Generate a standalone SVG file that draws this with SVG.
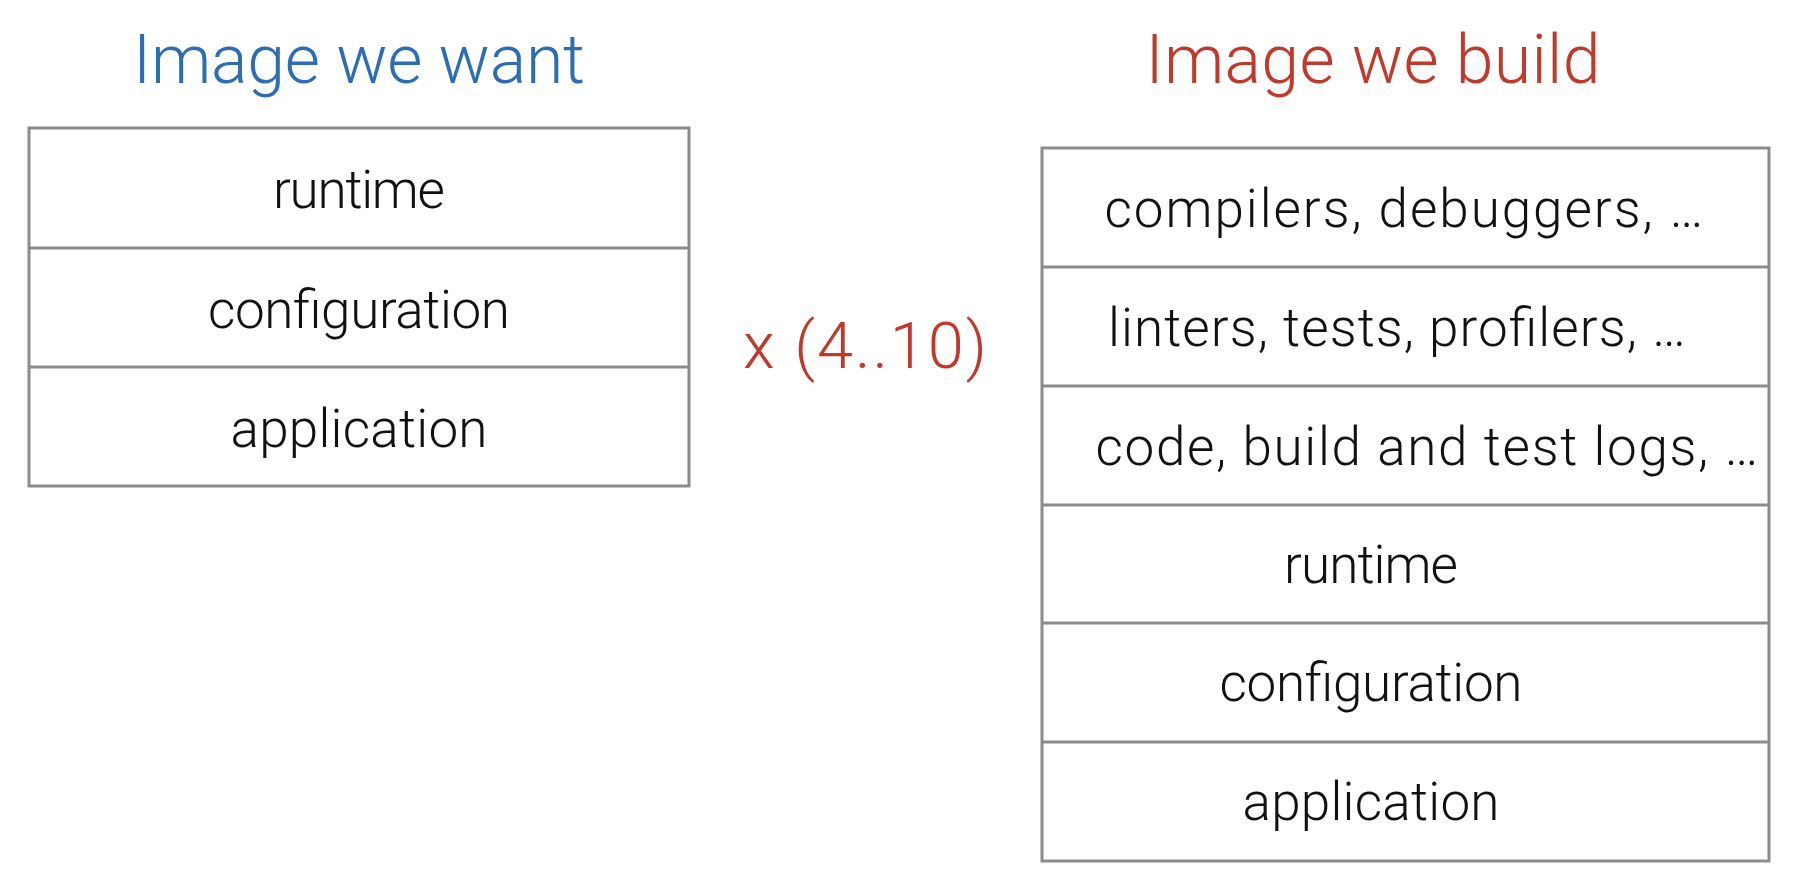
<svg xmlns="http://www.w3.org/2000/svg" width="1809" height="893" viewBox="0 0 1809 893">
<style>
.box{fill:#ffffff;stroke:#8c8c8c;stroke-width:3}
.div{stroke:#8c8c8c;stroke-width:3}
.lbl{font-family:Roboto,"Liberation Sans",Arial,sans-serif;font-weight:300;font-size:53px;fill:#111111;text-anchor:middle}
.title{font-family:Roboto,"Liberation Sans",Arial,sans-serif;font-weight:300;font-size:68px;text-anchor:middle}
</style>
<rect width="1809" height="893" fill="#ffffff"/>
<g id="title-want"><text class="title" x="359" y="83" fill="#2c6db3" textLength="452" lengthAdjust="spacing">Image we want</text></g>
<g id="title-build"><text class="title" x="1373" y="83" fill="#c0392b" textLength="455" lengthAdjust="spacing">Image we build</text></g>
<g id="multiplier"><text class="title" x="865" y="368" fill="#c0392b" style="font-size:65px" textLength="244" lengthAdjust="spacing">x (4..10)</text></g>
<g id="stack-want">
<rect class="box" x="29" y="128" width="660" height="358"/>
<line class="div" x1="29" y1="248" x2="689" y2="248"/>
<line class="div" x1="29" y1="367" x2="689" y2="367"/>
<g id="want-runtime"><text class="lbl" x="359" y="208" textLength="172" lengthAdjust="spacing">runtime</text></g>
<g id="want-configuration"><text class="lbl" x="359" y="328" textLength="302" lengthAdjust="spacing">configuration</text></g>
<g id="want-application"><text class="lbl" x="359" y="447" textLength="257" lengthAdjust="spacing">application</text></g>
</g>
<g id="stack-build">
<rect class="box" x="1042" y="148" width="727" height="713"/>
<line class="div" x1="1042" y1="267" x2="1769" y2="267"/>
<line class="div" x1="1042" y1="386" x2="1769" y2="386"/>
<line class="div" x1="1042" y1="505" x2="1769" y2="505"/>
<line class="div" x1="1042" y1="623" x2="1769" y2="623"/>
<line class="div" x1="1042" y1="742" x2="1769" y2="742"/>
<g id="build-compilers"><text class="lbl" x="1404" y="227" textLength="599" lengthAdjust="spacing">compilers, debuggers, …</text></g>
<g id="build-linters"><text class="lbl" x="1397" y="346" textLength="578" lengthAdjust="spacing">linters, tests, profilers, …</text></g>
<g id="build-code"><text class="lbl" x="1427" y="465" textLength="663" lengthAdjust="spacing">code, build and test logs, …</text></g>
<g id="build-runtime"><text class="lbl" x="1371" y="583" textLength="174" lengthAdjust="spacing">runtime</text></g>
<g id="build-configuration"><text class="lbl" x="1371" y="701" textLength="303" lengthAdjust="spacing">configuration</text></g>
<g id="build-application"><text class="lbl" x="1371" y="820" textLength="257" lengthAdjust="spacing">application</text></g>
</g>
<g id="connectors"></g>
</svg>
